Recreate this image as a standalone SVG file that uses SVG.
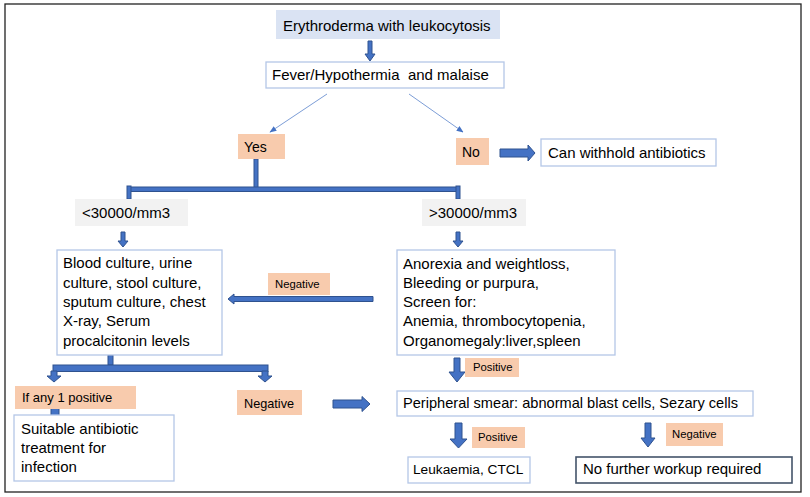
<svg xmlns="http://www.w3.org/2000/svg" width="810" height="497" viewBox="0 0 810 497">
<defs>
<style>
text{font-family:"Liberation Sans",Arial,sans-serif;fill:#000;white-space:pre}
.t{font-size:15px}
.s{font-size:11.3px}
.box{fill:#fff;stroke:#b4c7e7;stroke-width:1.3}
.or{fill:#f8cbad}
.gr{fill:#f2f2f2}
.ba{fill:#4472c4;stroke:#2f528f;stroke-width:1}
.thin{stroke:#4472c4;stroke-width:0.7;fill:none}
</style>
<marker id="ah" viewBox="0 0 10 10" refX="9" refY="5" markerWidth="7" markerHeight="7" orient="auto" markerUnits="userSpaceOnUse">
<path d="M0,1 L10,5 L0,9 Z" fill="#4472c4"/>
</marker>
</defs>
<rect x="5" y="4" width="796" height="488" fill="#fff" stroke="#222" stroke-width="1.3"/>

<g id="connectors">
<path class="ba" d="M368,41 H372 V54 H375 L370,61 L365,54 H368 Z"/>
<line class="thin" x1="327" y1="94" x2="270" y2="132" marker-end="url(#ah)"/>
<line class="thin" x1="409" y1="94" x2="463" y2="132" marker-end="url(#ah)"/>
<path class="ba" d="M500,149 H528 V145 L535,153 L528,161 V157 H500 Z"/>
<rect class="ba" x="254" y="159" width="4" height="29"/>
<rect class="ba" x="129" y="187" width="329" height="4.5"/>
<rect class="ba" x="127" y="186" width="4" height="13"/>
<rect class="ba" x="456" y="186" width="4" height="13"/>
<path class="ba" d="M121,232 H125 V241 H128 L123,247 L118,241 H121 Z"/>
<path class="ba" d="M456,232 H460 V241 H463 L458,247 L453,241 H456 Z"/>
<path class="ba" d="M373,296.5 H234 V294 L228,299 L234,304 V301.5 H373 Z"/>
<rect class="ba" x="108" y="355" width="5" height="10"/>
<rect class="ba" x="53" y="365" width="215" height="6.5"/>
<path class="ba" d="M51,371 H57 V376 H61 L54,382 L47,376 H51 Z"/>
<path class="ba" d="M262,371 H268 V376 H272 L265,382 L258,376 H262 Z"/>
<path class="ba" d="M51,408 H59 V417 H63 L55,426 L47,417 H51 Z"/>
<path class="ba" d="M333,400 H362 V396.5 L370,404 L362,411.5 V408 H333 Z"/>
<path class="ba" d="M454,358 H460 V372 H465 L457,382 L449,372 H454 Z"/>
<path class="ba" d="M455,423 H462 V439 H467 L458.5,448 L450,439 H455 Z"/>
<path class="ba" d="M645,423 H651 V438 H655 L648,447 L641,438 H645 Z"/>
</g>

<g id="n-top"><rect x="276" y="10" width="224" height="29" fill="#dae3f3"/><text class="t" x="283" y="31">Erythroderma with leukocytosis</text></g>
<g id="n-fever"><rect class="box" x="266" y="62" width="238" height="26"/><text class="t" x="272" y="80">Fever/Hypothermia  and malaise</text></g>
<g id="n-yes"><rect class="or" x="238" y="134" width="47" height="25"/><text class="t" style="font-size:14px" x="244" y="152">Yes</text></g>
<g id="n-no"><rect class="or" x="456" y="138" width="33" height="27"/><text class="t" style="font-size:14px" x="462" y="157">No</text></g>
<g id="n-withhold"><rect class="box" x="541" y="139" width="175" height="27"/><text class="t" x="548" y="158">Can withhold antibiotics</text></g>
<g id="n-lt"><rect class="gr" x="75" y="199" width="113" height="27"/><text class="t" x="82" y="218">&lt;30000/mm3</text></g>
<g id="n-gt"><rect class="gr" x="422" y="199" width="104" height="27"/><text class="t" x="429" y="218">&gt;30000/mm3</text></g>
<g id="n-cultures"><rect class="box" x="57" y="250" width="165" height="105"/>
<text class="t" x="63" y="268">Blood culture, urine</text>
<text class="t" x="63" y="287.5">culture, stool culture,</text>
<text class="t" x="63" y="307">sputum culture, chest</text>
<text class="t" x="63" y="326">X-ray, Serum</text>
<text class="t" x="63" y="345.5">procalcitonin levels</text></g>
<g id="n-neg1"><rect class="or" x="268" y="273" width="62" height="22"/><text class="s" x="275" y="288">Negative</text></g>
<g id="n-anorexia"><rect class="box" x="397" y="250" width="218" height="105"/>
<text class="t" x="403" y="269">Anorexia and weightloss,</text>
<text class="t" x="403" y="288">Bleeding or purpura,</text>
<text class="t" x="403" y="307">Screen for:</text>
<text class="t" x="403" y="326">Anemia, thrombocytopenia,</text>
<text class="t" x="403" y="346">Organomegaly:liver,spleen</text></g>
<g id="n-pos1"><rect class="or" x="465" y="358" width="54" height="19"/><text class="s" x="473" y="371">Positive</text></g>
<g id="n-ifany"><rect class="or" x="15" y="386" width="121" height="23"/><text class="t" style="font-size:13px" x="22" y="402">If any 1 positive</text></g>
<g id="n-suitable"><rect class="box" x="14" y="415" width="160" height="66"/>
<text class="t" x="21" y="434">Suitable antibiotic</text>
<text class="t" x="21" y="453">treatment for</text>
<text class="t" x="21" y="472">infection</text></g>
<g id="n-neg2"><rect class="or" x="237" y="390" width="65" height="25"/><text class="t" style="font-size:12.7px" x="244" y="408">Negative</text></g>
<g id="n-smear"><rect class="box" x="397" y="391" width="356" height="25"/><text class="t" style="font-size:14.6px" x="403" y="408">Peripheral smear: abnormal blast cells, Sezary cells</text></g>
<g id="n-pos2"><rect class="or" x="472" y="427" width="53" height="21"/><text class="s" x="478" y="441">Positive</text></g>
<g id="n-neg3"><rect class="or" x="666" y="423" width="57" height="23"/><text class="s" x="672" y="438">Negative</text></g>
<g id="n-leuk"><rect class="box" x="408" y="457" width="122" height="26"/><text class="t" style="font-size:13.7px" x="413" y="474">Leukaemia, CTCL</text></g>
<g id="n-nofurther"><rect x="576" y="457" width="216" height="26" fill="#fff" stroke="#44546a" stroke-width="1.6"/><text class="t" x="583" y="474">No further workup required</text></g>
</svg>
